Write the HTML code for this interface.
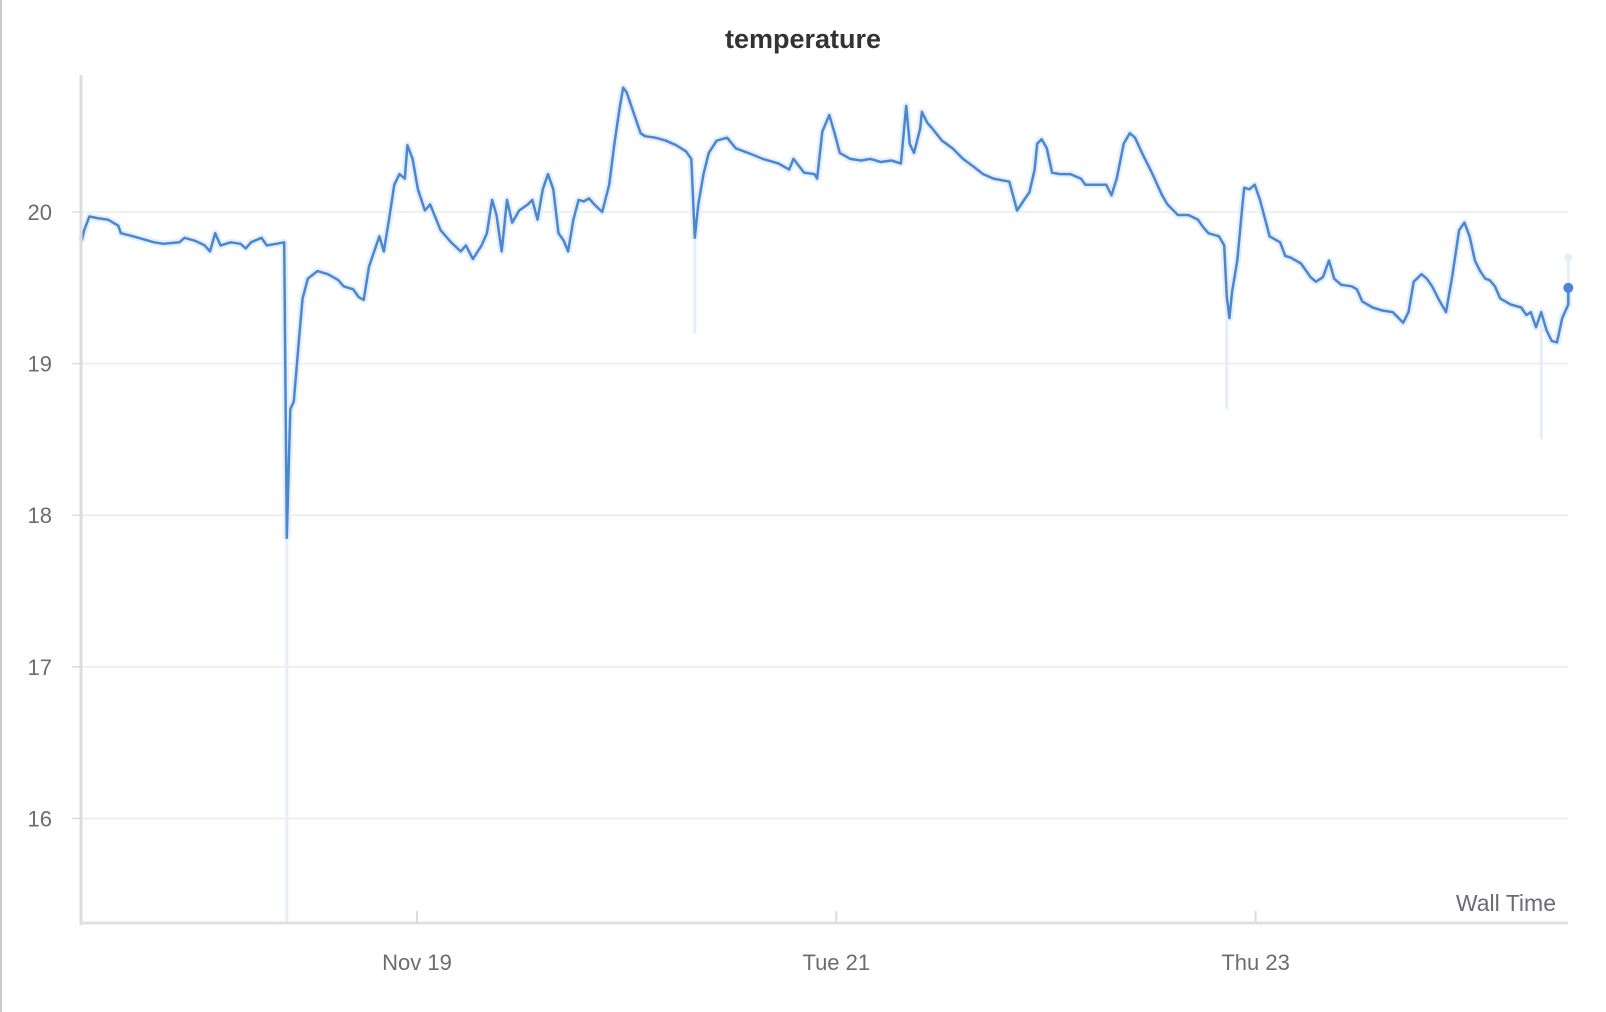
<!DOCTYPE html>
<html><head><meta charset="utf-8"><style>
html,body{margin:0;padding:0;background:#fff;}
svg{display:block;font-family:"Liberation Sans",sans-serif;}
</style></head><body>
<svg id="chart" width="1606" height="1012" viewBox="0 0 1606 1012" xmlns="http://www.w3.org/2000/svg">
<rect x="0" y="0" width="2" height="1012" fill="#c8ccd2"/>
<text x="803" y="48" text-anchor="middle" font-size="27" font-weight="bold" fill="#333">temperature</text>
<g id="grid"></g>
<g id="raw"></g>
<g id="series"></g>
<g id="axes"></g>
<text x="1556" y="911" text-anchor="end" font-size="23" fill="#6b6b76">Wall Time</text>
</svg>
<script>
// hours relative to Nov 19 00:00
const hours = [-38.4,-38.1,-37.5,-36.6,-35.4,-34.2,-33.9,-32.5,-31.3,-30.1,-29.0,-27.2,-26.6,-25.4,-24.3,-23.7,-23.1,-22.5,-21.3,-20.2,-19.6,-19.0,-17.8,-17.2,-16.1,-15.2,-14.9,-14.5,-14.1,-13.5,-13.1,-12.5,-11.4,-10.2,-9.0,-8.4,-7.3,-6.7,-6.1,-5.5,-4.9,-4.3,-3.8,-3.2,-2.6,-2.0,-1.4,-1.1,-0.5,0.1,0.9,1.5,2.7,3.9,5.0,5.6,6.4,7.4,8.0,8.6,9.1,9.7,10.3,10.9,11.7,12.7,13.2,13.8,14.4,15.0,15.6,16.2,16.8,17.3,17.9,18.5,19.1,19.7,20.3,21.2,22.0,22.6,23.2,23.6,24.0,25.0,25.6,26.1,27.3,28.5,29.7,30.8,31.4,31.8,32.2,32.8,33.4,34.3,35.5,36.5,37.9,39.6,41.4,42.6,43.1,44.3,45.5,45.8,46.4,47.2,47.8,48.4,49.6,50.8,51.9,53.1,54.3,55.4,56.0,56.4,56.9,57.6,57.8,58.4,59.0,60.1,61.3,62.5,63.7,64.8,66.0,67.8,68.7,69.5,70.1,70.7,71.0,71.5,72.1,72.7,73.6,74.8,76.0,76.5,77.7,78.9,79.5,80.1,80.9,81.6,82.2,83.0,84.2,85.3,85.9,87.1,88.3,89.4,90.0,90.6,91.8,92.4,92.7,93.0,93.3,93.9,94.5,94.7,95.3,95.9,96.5,97.1,97.6,98.8,99.4,100.0,101.2,102.3,102.9,103.7,104.4,105.0,105.8,107.0,107.6,108.2,109.4,110.5,111.7,112.9,113.5,114.1,115.0,115.6,116.2,117.0,117.8,118.5,119.3,119.9,120.5,121.1,121.7,122.3,122.8,123.4,124.0,125.2,126.4,127.0,127.5,128.1,128.7,129.3,129.9,130.5,131.1,131.8,131.8];
const temps = [19.81,19.88,19.97,19.96,19.95,19.91,19.86,19.84,19.82,19.80,19.79,19.80,19.83,19.81,19.78,19.74,19.86,19.78,19.80,19.79,19.76,19.80,19.83,19.78,19.79,19.80,17.85,18.70,18.75,19.17,19.43,19.56,19.61,19.59,19.55,19.51,19.49,19.44,19.42,19.64,19.74,19.84,19.74,19.95,20.18,20.25,20.22,20.44,20.35,20.15,20.01,20.05,19.88,19.80,19.74,19.78,19.69,19.78,19.86,20.08,19.98,19.74,20.08,19.93,20.01,20.05,20.08,19.95,20.15,20.25,20.15,19.86,19.81,19.74,19.95,20.08,20.07,20.09,20.05,20.00,20.18,20.45,20.69,20.82,20.79,20.62,20.52,20.50,20.49,20.47,20.44,20.40,20.35,19.83,20.05,20.25,20.39,20.47,20.49,20.42,20.39,20.35,20.32,20.28,20.35,20.26,20.25,20.22,20.53,20.64,20.52,20.39,20.35,20.34,20.35,20.33,20.34,20.32,20.70,20.45,20.39,20.55,20.66,20.59,20.55,20.47,20.42,20.35,20.30,20.25,20.22,20.20,20.01,20.08,20.13,20.28,20.45,20.48,20.42,20.26,20.25,20.25,20.22,20.18,20.18,20.18,20.11,20.22,20.45,20.52,20.49,20.39,20.25,20.11,20.05,19.98,19.98,19.95,19.90,19.86,19.84,19.78,19.44,19.30,19.47,19.68,20.05,20.16,20.15,20.18,20.08,19.95,19.84,19.80,19.71,19.70,19.66,19.57,19.54,19.57,19.68,19.56,19.52,19.51,19.49,19.41,19.37,19.35,19.34,19.27,19.34,19.54,19.59,19.56,19.51,19.42,19.34,19.57,19.88,19.93,19.84,19.68,19.61,19.56,19.55,19.51,19.43,19.39,19.37,19.32,19.34,19.24,19.34,19.22,19.15,19.14,19.30,19.39,19.50];
// raw-data outlier spikes (hour, value)
const spikeHours = [-14.9,31.8,92.7,128.7,131.8];
const spikeTemps = [15.3,19.2,18.7,18.5,19.7];
const yTicks = [16,17,18,19,20];
const xTickHours = [0,48,96];
const xTickLabels = ["Nov 19","Tue 21","Thu 23"];

const NS="http://www.w3.org/2000/svg";
const X0=81, X1=1568, Y0=75, Y1=923;
function xs(h){return 417 + h*8.7354;}
function ys(v){return 212 + (20-v)*151.6;}
function mk(tag,attrs,parent){const e=document.createElementNS(NS,tag);for(const k in attrs)e.setAttribute(k,attrs[k]);parent.appendChild(e);return e;}
const grid=document.getElementById('grid'), axes=document.getElementById('axes'), raw=document.getElementById('raw'), series=document.getElementById('series');

yTicks.forEach(v=>{
  const y=ys(v);
  const g=mk('line',{x1:X0,x2:X1,y1:y,y2:y,stroke:'#ebebeb','stroke-width':1.5},grid);
  
  
  const t=mk('line',{x1:72,x2:X0,y1:y,y2:y,stroke:'#ddd','stroke-width':1.5},axes);
  
  
  const l=mk('text',{x:52,y:y+8,'text-anchor':'end','font-size':22,fill:'#6b6b76'},axes);
  l.textContent=v;
  
  
});
const ya=mk('line',{x1:X0,x2:X0,y1:Y0,y2:Y1+2,stroke:'#dcdcdc','stroke-width':3},axes);


const xa=mk('line',{x1:X0-1,x2:X1,y1:Y1,y2:Y1,stroke:'#e0e0e0','stroke-width':3},axes);


xTickHours.forEach((h,i)=>{
  const x=xs(h);
  const t=mk('line',{x1:x,x2:x,y1:Y1-12,y2:Y1,stroke:'#dcdcdc','stroke-width':2},axes);
  
  
  const l=mk('text',{x:x,y:970,'text-anchor':'middle','font-size':22,fill:'#6b6b76'},axes);
  l.textContent=xTickLabels[i];
  
  
});

const pts=hours.map((h,i)=>xs(h).toFixed(1)+','+ys(temps[i]).toFixed(1)).join(' ');
const shadow=mk('polyline',{points:pts,fill:'none',stroke:'#e6eef9','stroke-width':7,'stroke-linejoin':'round'},raw);


spikeHours.forEach((h,i)=>{
  const idx=hours.indexOf(h);
  const base=idx>=0?temps[idx]:temps[temps.length-1];
  const s=mk('line',{x1:xs(h),x2:xs(h),y1:ys(base),y2:ys(spikeTemps[i]),stroke:'#e6eef9','stroke-width':3},raw);
  
  
});
const line=mk('polyline',{points:pts,fill:'none',stroke:'#4a87d1','stroke-width':2.5,'stroke-linejoin':'round'},series);


const lh=hours[hours.length-1];
const d1=mk('circle',{cx:xs(lh),cy:ys(spikeTemps[4]),r:4,fill:'#e6eef9'},series);


const d2=mk('circle',{cx:xs(lh),cy:ys(temps[temps.length-1]),r:5,fill:'#4a87d1'},series);


</script>
</body></html>
